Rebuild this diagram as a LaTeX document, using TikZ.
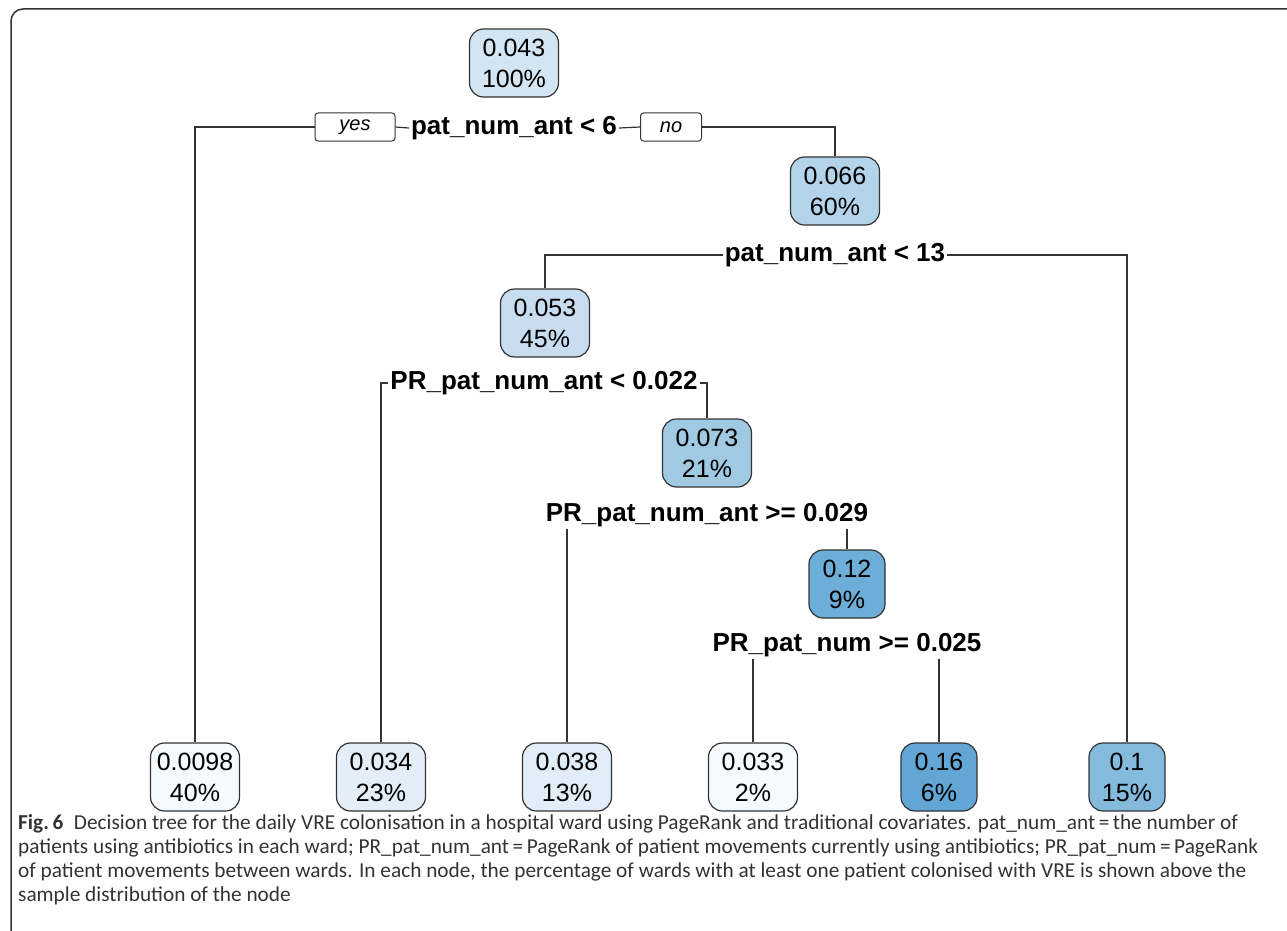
\documentclass[tikz,border=0pt]{standalone}
\usepackage{fontspec}
\setmainfont{Liberation Sans}
\newfontfamily\capfont{Carlito}
\usetikzlibrary{positioning}

\definecolor{pale}{HTML}{F5FAFE}
\definecolor{c034}{HTML}{E3EEF8}
\definecolor{c038}{HTML}{E1EDF8}
\definecolor{c043}{HTML}{D3E4F3}
\definecolor{c053}{HTML}{C8DCF0}
\definecolor{c066}{HTML}{B3D3EA}
\definecolor{c073}{HTML}{9FCAE2}
\definecolor{c010}{HTML}{84BBDD}
\definecolor{c012}{HTML}{6CAED7}
\definecolor{c016}{HTML}{62A6D5}
\definecolor{edge}{HTML}{333333}

\begin{document}
\begin{tikzpicture}[x=1pt, y=-1pt,
      leaf/.style={rectangle, rounded corners=14pt, draw=edge, line width=1.2pt, align=center,
        minimum width=76pt, minimum height=68pt, inner xsep=6pt, inner ysep=4pt,
        font=\fontsize{25}{31}\selectfont},
      wide/.style={leaf, minimum width=89pt},
      split/.style={inner sep=2pt, font=\fontsize{26}{30}\selectfont\bfseries},
      tag/.style={rectangle, rounded corners=3pt, draw=edge, line width=1pt, fill=white,
        minimum height=28pt, inner sep=1pt, font=\fontsize{20}{24}\selectfont\itshape},
      capline/.style={anchor=base west, inner sep=0pt, text=black!80, font=\capfont\fontsize{21.3}{24}\selectfont}]

      \useasboundingbox (0,0) rectangle (1287,931);

      % frame
      \draw[edge, line width=1.5pt, rounded corners=12pt] (11,931) -- (11,9) -- (1287,9);

      % inner nodes
      \node[wide, fill=c043] (root) at (514,63) {0.043\\100\%};
      \node[wide, fill=c066] (n066) at (835,191) {0.066\\60\%};
      \node[wide, fill=c053] (n053) at (545,323) {0.053\\45\%};
      \node[wide, fill=c073] (n073) at (707,453) {0.073\\21\%};
      \node[leaf, fill=c012] (n012) at (847,584) {0.12\\9\%};

      % leaves
      \node[wide, fill=pale] (l0098) at (195,777) {0.0098\\40\%};
      \node[wide, fill=c034] (l034) at (381,777) {0.034\\23\%};
      \node[wide, fill=c038] (l038) at (567,777) {0.038\\13\%};
      \node[wide, fill=pale] (l033) at (753,777) {0.033\\2\%};
      \node[leaf, fill=c016] (l016) at (939,777) {0.16\\6\%};
      \node[leaf, fill=c010] (l010) at (1127,777) {0.1\\15\%};

      % splits
      \node[split] (s1) at (514,128) {pat\_num\_ant < 6};
      \node[tag, minimum width=80pt] (yes) at (355,127) {yes};
      \node[tag, minimum width=61pt] (no) at (671,127) {no};
      \node[split] (s2) at (835,255) {pat\_num\_ant < 13};
      \node[split] (s3) at (544,383) {PR\_pat\_num\_ant < 0.022};
      \node[split] (s4) at (707,515) {PR\_pat\_num\_ant >= 0.029};
      \node[split] (s5) at (847,645) {PR\_pat\_num >= 0.025};

      % Edges
      \begin{scope}[edge, line width=1.2pt]
        \draw (yes.west) -| (l0098.north);
        \draw (s1.west) -- (yes.east);
        \draw (s1.east) -- (no.west);
        \draw (no.east) -| (n066.north);
        \draw (s2.west) -| (n053.north);
        \draw (s2.east) -| (l010.north);
        \draw (s3.west) -| (l034.north);
        \draw (s3.east) -| (n073.north);
        \draw (s4.south -| l038.north) -- (l038.north);
        \draw (s4.south -| n012.north) -- (n012.north);
        \draw (s5.south -| l033.north) -- (l033.north);
        \draw (s5.south -| l016.north) -- (l016.north);
      \end{scope}

      % Caption
      \node[capline] (cap1) at (18,829) {\textbf{Fig.\,6}\enspace Decision tree for the daily VRE colonisation in a hospital ward using PageRank and traditional covariates. pat\_num\_ant\,=\,the number of};
      \node[capline] (cap2) at (18,853) {patients using antibiotics in each ward; PR\_pat\_num\_ant\,=\,PageRank of patient movements currently using antibiotics; PR\_pat\_num\,=\,PageRank};
      \node[capline] (cap3) at (18,877) {of patient movements between wards. In each node, the percentage of wards with at least one patient colonised with VRE is shown above the};
      \node[capline] (cap4) at (18,901) {sample distribution of the node};
    \end{tikzpicture}
\end{document}
